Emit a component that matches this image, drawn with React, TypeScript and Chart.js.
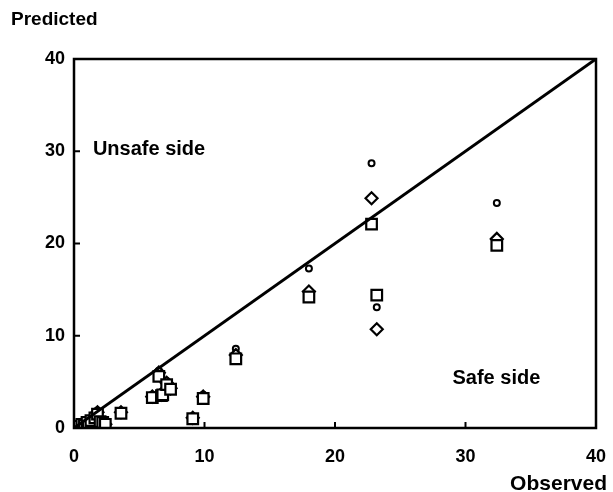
import React, { useEffect, useRef } from "react";
import { Chart, registerables } from "chart.js";

Chart.register(...registerables);

const observed = [0.3, 0.6, 0.8, 1.0, 1.1, 1.3, 1.6, 1.8, 2.0, 2.2, 2.4, 3.6, 6.0, 6.5, 6.7, 6.8, 7.1, 7.4, 9.1, 9.9, 12.4, 18.0, 22.8, 23.2, 32.4];
const predCircle = [0.3, 0.5, 0.4, 0.8, 0.3, 1.0, 1.4, 1.9, 0.9, 0.7, 0.5, 1.8, 3.6, 6.2, 3.8, 4.0, 5.1, 4.5, 1.2, 3.6, 8.6, 17.3, 28.7, 13.1, 24.4];
const predDiamond = [0.2, 0.4, 0.3, 0.6, 0.2, 0.8, 1.2, 1.7, 0.8, 0.6, 0.4, 1.7, 3.4, 6.0, 3.6, 3.8, 4.9, 4.3, 1.1, 3.4, 7.9, 14.8, 24.9, 10.7, 20.5];
const predSquare = [0.2, 0.4, 0.3, 0.6, 0.2, 0.8, 1.1, 1.5, 0.7, 0.6, 0.4, 1.6, 3.3, 5.6, 3.5, 3.6, 4.7, 4.2, 1.0, 3.2, 7.5, 14.2, 22.1, 14.4, 19.8];
const tickValues = [0, 10, 20, 30, 40];
const xTitle = "Observed";
const yTitle = "Predicted";
const unsafeLabel = "Unsafe side";
const safeLabel = "Safe side";

const FONT = "'Liberation Sans', Arial, sans-serif";

const pts = (ys: number[]) => observed.map((x, i) => ({ x, y: ys[i] }));

const decorPlugin = {
  id: "decor",
  afterDatasetsDraw(chart: any) {
    const { ctx, chartArea: a, scales } = chart;
    const xs = scales.x;
    const ys = scales.y;
    ctx.save();
    ctx.strokeStyle = "#000";
    ctx.lineWidth = 2.5;
    ctx.strokeRect(a.left, a.top, a.right - a.left, a.bottom - a.top);
    ctx.lineWidth = 2;
    [10, 20, 30].forEach((v) => {
      const py = ys.getPixelForValue(v);
      ctx.beginPath();
      ctx.moveTo(a.left, py);
      ctx.lineTo(a.left + 6, py);
      ctx.stroke();
      const px = xs.getPixelForValue(v);
      ctx.beginPath();
      ctx.moveTo(px, a.bottom);
      ctx.lineTo(px, a.bottom - 6);
      ctx.stroke();
    });
    ctx.fillStyle = "#000";
    ctx.font = `bold 19px ${FONT}`;
    ctx.textBaseline = "middle";
    ctx.textAlign = "left";
    ctx.fillText(yTitle, 11, 20);
    ctx.textAlign = "right";
    ctx.font = `bold 21px ${FONT}`;
    ctx.fillText(xTitle, 607, 484);
    ctx.font = `bold 20px ${FONT}`;
    ctx.textAlign = "left";
    ctx.fillText(unsafeLabel, xs.getPixelForValue(1.45), ys.getPixelForValue(30.2));
    ctx.fillText(safeLabel, xs.getPixelForValue(29.0), ys.getPixelForValue(5.4));
    ctx.restore();
  },
};

export default function App() {
  const ref = useRef<HTMLCanvasElement>(null);
  useEffect(() => {
    if (!ref.current) return;
    const chart = new Chart(ref.current, {
      type: "scatter",
      data: {
        datasets: [
          {
            type: "line",
            data: [{ x: 0, y: 0 }, { x: 40, y: 40 }],
            borderColor: "#000",
            borderWidth: 3,
            pointRadius: 0,
            order: 0,
          } as any,
          {
            data: pts(predSquare),
            pointStyle: "rect",
            pointRadius: 7.5,
            borderColor: "#000",
            backgroundColor: "#fff",
            borderWidth: 2.2,
          },
          {
            data: pts(predDiamond),
            pointStyle: "rectRot",
            pointRadius: 6,
            borderColor: "#000",
            backgroundColor: "#fff",
            borderWidth: 2.2,
          },
          {
            data: pts(predCircle),
            pointStyle: "circle",
            pointRadius: 3,
            borderColor: "#000",
            backgroundColor: "#fff",
            borderWidth: 2,
          },
        ],
      },
      options: {
        responsive: false,
        animation: false,
        layout: { padding: { top: 59, right: 17, left: 0, bottom: 0 } },
        plugins: { legend: { display: false }, tooltip: { enabled: false } },
        scales: {
          x: {
            type: "linear",
            min: 0,
            max: 40,
            afterFit: (s: any) => { s.height = 64; s.paddingLeft = 0; s.paddingRight = 0; },
            afterBuildTicks: (s: any) => { s.ticks = tickValues.map((v) => ({ value: v })); },
            grid: { display: false, drawTicks: false },
            border: { display: false },
            ticks: { color: "#000", padding: 18, font: { family: FONT, size: 18, weight: "bold" } },
          },
          y: {
            type: "linear",
            min: 0,
            max: 40,
            afterFit: (s: any) => { s.width = 74; s.paddingTop = 0; s.paddingBottom = 0; },
            afterBuildTicks: (s: any) => { s.ticks = tickValues.map((v) => ({ value: v })); },
            grid: { display: false, drawTicks: false },
            border: { display: false },
            ticks: { color: "#000", padding: 9, font: { family: FONT, size: 18, weight: "bold" } },
          },
        },
      },
      plugins: [decorPlugin],
    } as any);
    return () => chart.destroy();
  }, []);
  return (
    <canvas
      ref={ref}
      width={613}
      height={492}
      style={{ position: "absolute", left: 0, top: 0, width: 613, height: 492 }}
    />
  );
}
